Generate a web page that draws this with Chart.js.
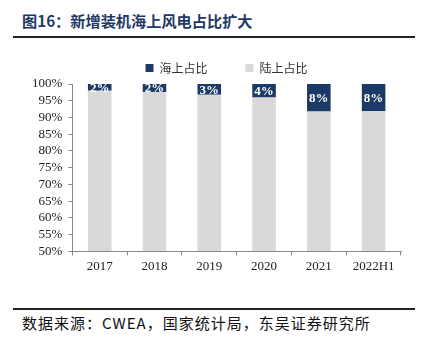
<!DOCTYPE html>
<html><head><meta charset="utf-8">
<script src="https://cdn.jsdelivr.net/npm/chart.js@4.4.0/dist/chart.umd.min.js"></script>
<style>
html,body{margin:0;padding:0;background:#fff;width:428px;height:349px;overflow:hidden;}
#title{position:absolute;left:22px;top:9px;font-family:"Noto Sans CJK SC";font-weight:bold;font-size:15.2px;color:#1f3864;white-space:nowrap;}
#line1{position:absolute;left:13px;top:36px;width:402px;height:2px;background:#222;}
#line2{position:absolute;left:13px;top:308px;width:402px;height:2px;background:#222;}
#src{position:absolute;left:22px;top:312px;font-family:"Noto Sans CJK SC";font-size:15px;letter-spacing:1px;color:#111;white-space:nowrap;}
#wrap{position:absolute;left:0;top:12px;width:428px;height:265px;}
</style></head><body>
<div id="title">图16：新增装机海上风电占比扩大</div>
<div id="line1"></div>
<div id="line2"></div>
<div id="src">数据来源：CWEA，国家统计局，东吴证券研究所</div>
<div id="wrap"><canvas id="c"></canvas></div>
<script>
const categories = ["2017","2018","2019","2020","2021","2022H1"];
const offshore = [2.0, 2.4, 3.2, 4.0, 8.2, 8.1];
const onshore = [98.0, 97.6, 96.8, 96.0, 91.8, 91.9];
const yTicks = [50,55,60,65,70,75,80,85,90,95,100];

const labelPlugin = {
  id:'labels',
  afterLayout(chart){
    if (chart.legend) { chart.legend.left += 13; chart.legend.right += 13; }
  },
  afterDatasetsDraw(chart){
    const ctx = chart.ctx;
    const meta = chart.getDatasetMeta(1);
    ctx.save();
    ctx.font = 'bold 13px "Liberation Serif"';
    ctx.fillStyle = '#fff';
    ctx.textAlign = 'center';
    ctx.textBaseline = 'middle';
    meta.data.forEach((el,i)=>{
      const y = (el.y + el.base)/2;
      ctx.fillText(Math.round(offshore[i]) + '%', el.x, y+1);
    });
    ctx.restore();
  }
};

new Chart(document.getElementById('c'), {
  type:'bar',
  data:{
    labels: categories,
    datasets:[
      {label:'陆上占比', data: onshore, backgroundColor:'#d9d9d9', base:50},
      {label:'海上占比', data: offshore, backgroundColor:'#1b3a66'}
    ]
  },
  options:{
    responsive:true, maintainAspectRatio:false, animation:false,
    datasets:{bar:{barPercentage:0.43, categoryPercentage:1.0}},
    layout:{padding:{left:26, right:27, top:12, bottom:0}},
    plugins:{
      legend:{
        position:'top', reverse:true,
        labels:{boxWidth:8, boxHeight:8, padding:38, color:'#333',
          font:{family:'"Noto Sans CJK SC"', size:12}}
      },
      tooltip:{enabled:false}
    },
    scales:{
      x:{stacked:true,
        grid:{display:true, drawOnChartArea:false, drawTicks:true, tickLength:4, color:'#888'},
        border:{display:true, color:'#888'},
        ticks:{color:'#222', font:{family:'"Liberation Serif"', size:13}, padding:3}
      },
      y:{stacked:true, min:50, max:100,
        afterBuildTicks(axis){ axis.ticks = yTicks.map(v=>({value:v})); },
        grid:{display:true, drawOnChartArea:false, drawTicks:true, tickLength:4, color:'#888'},
        border:{display:true, color:'#888'},
        ticks:{autoSkip:false, color:'#222', font:{family:'"Liberation Serif"', size:13}, padding:6, callback:v=>v+'%'}
      }
    }
  },
  plugins:[labelPlugin]
});
</script>
</body></html>
